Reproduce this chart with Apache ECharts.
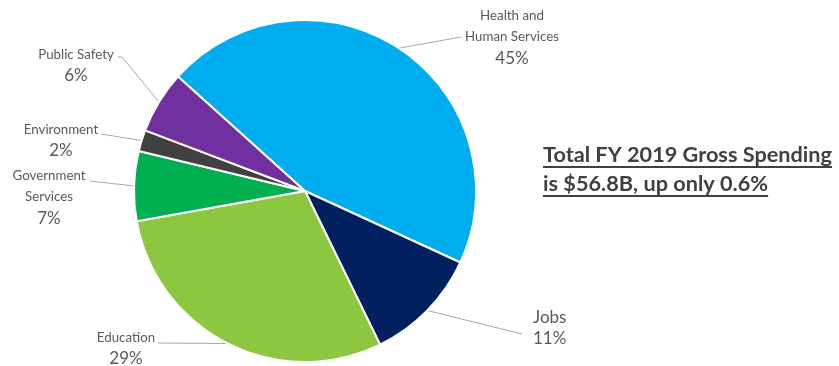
<!DOCTYPE html>
<html>
<head>
<meta charset="utf-8">
<script src="https://cdn.jsdelivr.net/npm/echarts@6/dist/echarts.min.js"></script>
<style>
html,body{margin:0;padding:0;background:#fff;}
#chart{width:839px;height:366px;}
</style>
</head>
<body>
<div id="chart"></div>
<script>
// ---- data ----
const categories = ['Health and Human Services', 'Jobs', 'Education', 'Government Services', 'Environment', 'Public Safety'];
const labelNames = ['Health and\nHuman Services', 'Jobs', 'Education', 'Government\nServices', 'Environment', 'Public Safety'];
const shares = [45.2, 10.9, 29.4, 6.6, 2.0, 5.9];
const colors = ['#00AEEF', '#002060', '#8DC63F', '#00B050', '#404040', '#7030A0'];
const titleLines = ['Total FY 2019 Gross Spending', 'is $56.8B, up only 0.6%'];

// ---- label placement (layout only) ----
const labelPos = [
  {x: 512, y: 5,   align: 'center', end: [461, 37], bend: null, big: false},
  {x: 533, y: 307, align: 'left',   end: [522, 334], bend: null, big: true},
  {x: 126, y: 327, align: 'center', end: [158, 343], bend: null, big: false},
  {x: 49,  y: 165, align: 'center', end: [90, 181],  bend: null, big: false},
  {x: 61,  y: 119, align: 'center', end: [101, 134], bend: null, big: false},
  {x: 76,  y: 44,  align: 'center', end: [118, 57],  bend: [122, 57], big: false}
];

const FONT = 'Lato';
const chart = echarts.init(document.getElementById('chart'));

function measure(text, font) {
  const c = document.createElement('canvas').getContext('2d');
  c.font = font;
  return c.measureText(text).width;
}
const tFontSize = 21.7;
const tLeft = 543, tTop = 140.5, tLH = 29;
const tFont = 'bold ' + tFontSize + 'px ' + FONT;
const underlines = titleLines.map((t, i) => ({
  type: 'line',
  shape: {x1: tLeft, y1: 167 + i * tLH, x2: tLeft + measure(t, tFont), y2: 167 + i * tLH},
  style: {stroke: '#404040', lineWidth: 2},
  silent: true
}));

chart.setOption({
  animation: false,
  color: colors,
  title: {
    text: titleLines.join('\n'),
    left: tLeft - 5,
    top: tTop - 5,
    textStyle: {fontFamily: FONT, fontSize: tFontSize, fontWeight: 'bold', color: '#404040', lineHeight: tLH}
  },
  graphic: underlines,
  series: [{
    type: 'pie',
    center: [305, 191],
    radius: 171,
    startAngle: 138,
    clockwise: true,
    avoidLabelOverlap: false,
    itemStyle: {borderColor: '#fff', borderWidth: 2},
    label: {
      show: true,
      position: 'outside',
      formatter: p => {
        const s = labelPos[p.dataIndex].big ? 'p' : 'n';
        return '{' + s + '|' + labelNames[p.dataIndex].split('\n').join('}\n{' + s + '|') + '}\n{p|' + Math.round(p.value) + '%}';
      },
      rich: {
        n: {fontFamily: FONT, fontSize: 13.3, color: '#595959', lineHeight: 21.3},
        p: {fontFamily: FONT, fontSize: 17, color: '#595959', lineHeight: 21.3}
      }
    },
    labelLine: {show: true, length: 10, length2: 10, lineStyle: {color: '#A6A6A6', width: 1}},
    labelLayout: function (params) {
      const L = labelPos[params.dataIndex];
      const pts = params.labelLinePoints;
      const p0 = pts ? pts[0] : L.end;
      const line = L.bend ? [p0, L.bend, L.end] : [p0, [(p0[0] + L.end[0]) / 2, (p0[1] + L.end[1]) / 2], L.end];
      return {x: L.x, y: L.y, align: L.align, verticalAlign: 'top', labelLinePoints: line};
    },
    data: categories.map((c, i) => ({name: c, value: shares[i]}))
  }]
});
</script>
</body>
</html>
